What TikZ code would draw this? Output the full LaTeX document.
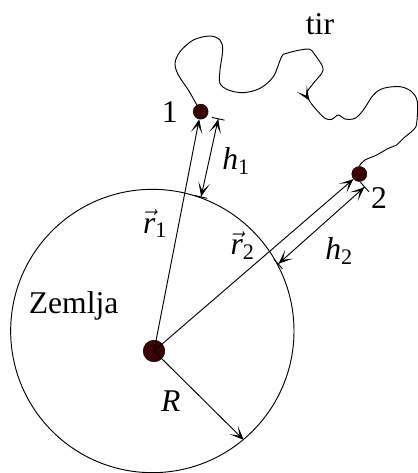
\documentclass[tikz,border=0pt]{standalone}
\usepackage{fontspec}
\setmainfont{Liberation Serif}
\newfontfamily\timesfont{Liberation Serif}
\usetikzlibrary{arrows.meta, positioning, decorations.markings}
\definecolor{massred}{RGB}{58,4,4}
\tikzset{
  body/.style={
    circle, draw=black, fill=massred,
    inner sep=0pt, minimum size=0.45cm
  },
  earth/.style={
    circle, draw=black, line width=0.8pt,
    inner sep=0pt, minimum size=8.5cm
  },
  txt/.style={inner sep=0pt, font=\timesfont\fontsize{27}{32}\selectfont},
  vec/.style={line width=0.8pt, -{Stealth[length=12pt,width=10pt,inset=7pt]}},
  dim/.style={
    line width=0.8pt,
    {Bar[width=11pt,sep=0pt]Stealth[length=12pt,width=10pt,inset=7pt,sep=0pt]}-{Stealth[length=12pt,width=10pt,inset=7pt,sep=0pt]Bar[width=11pt,sep=0pt]}
  },
  orbit/.style={
    line width=0.8pt, postaction={decorate},
    decoration={markings, mark=at position 0.58 with {\arrow{Stealth[length=12pt,width=10pt,inset=7pt]}}}
  },
}

\begin{document}
\begin{tikzpicture}
  \useasboundingbox (0,0) rectangle (12.54,14.19);

  \node (earth)  [earth]                    at (4.57,4.26) {};
  \node (centre) [body, minimum size=0.65cm] at (4.62,3.66) {};
  \node (p1)     [body]                     at (6.02,10.84) {};
  \node (p2)     [body]                     at (10.78,8.97) {};

  \coordinate (h1top) at (6.55,10.64);
  \coordinate (h2top) at (10.95,8.59);

  % radius vectors
  \draw [vec] (centre.center) -- (p1);
  \draw [vec] (centre.center) -- (p2);
  \draw [vec] (centre.center) -- (earth.-50);

  % heights above the surface
  \draw [dim] (earth.70)   -- (h1top);
  \draw [dim] (earth.28.5) -- (h2top);

  % trajectory
  \draw [orbit] plot [smooth, tension=0.55] coordinates {
    (p1.120) (5.65,11.49) (5.35,11.94) (5.25,12.29) (5.40,12.64) (5.80,12.99)
    (6.30,13.11) (6.60,12.99) (6.68,12.69) (6.60,12.09) (6.60,11.69) (6.85,11.49)
    (7.30,11.41) (7.80,11.54) (8.20,11.89) (8.45,12.49) (8.60,12.59) (9.00,12.69)
    (9.30,12.71) (9.45,12.54) (9.68,12.19) (9.65,11.99) (9.40,11.69) (9.20,11.39)
    (9.30,11.14) (9.50,10.89) (9.75,10.64) (9.95,10.61) (10.15,10.74) (10.35,10.62)
    (10.65,10.64) (10.90,10.89) (11.20,11.34) (11.50,11.54) (12.00,11.59) (12.35,11.44)
    (12.52,11.14) (12.50,10.49) (12.40,10.29) (12.10,10.04) (11.90,9.84) (11.65,9.74)
    (11.30,9.54) (10.95,9.39) (10.80,9.24) (p2.north)};

  \node (tir)    [txt, anchor=base] at (9.60,13.14) {tir};
  \node (n1)     [txt, left=0.45cm of p1] {1};
  \node (n2)     [txt, below right=0.25cm and 0.18cm of p2] {2};
  \node (lh1)    [txt, anchor=base] at (7.08,9.09)  {\textit{h}\textsubscript{1}};
  \node (lh2)    [txt, anchor=base] at (10.17,6.39) {\textit{h}\textsubscript{2}};
  \node (lr1)    [txt, anchor=base] at (4.65,7.19)  {$\vec{\textit{r}}$\textsubscript{1}};
  \node (lr2)    [txt, anchor=base] at (7.28,6.54)  {$\vec{\textit{r}}$\textsubscript{2}};
  \node (zemlja) [txt, anchor=base] at (2.21,4.79)  {Zemlja};
  \node (lR)     [txt, anchor=base] at (5.12,1.84)  {\textit{R}};
\end{tikzpicture}
\end{document}
